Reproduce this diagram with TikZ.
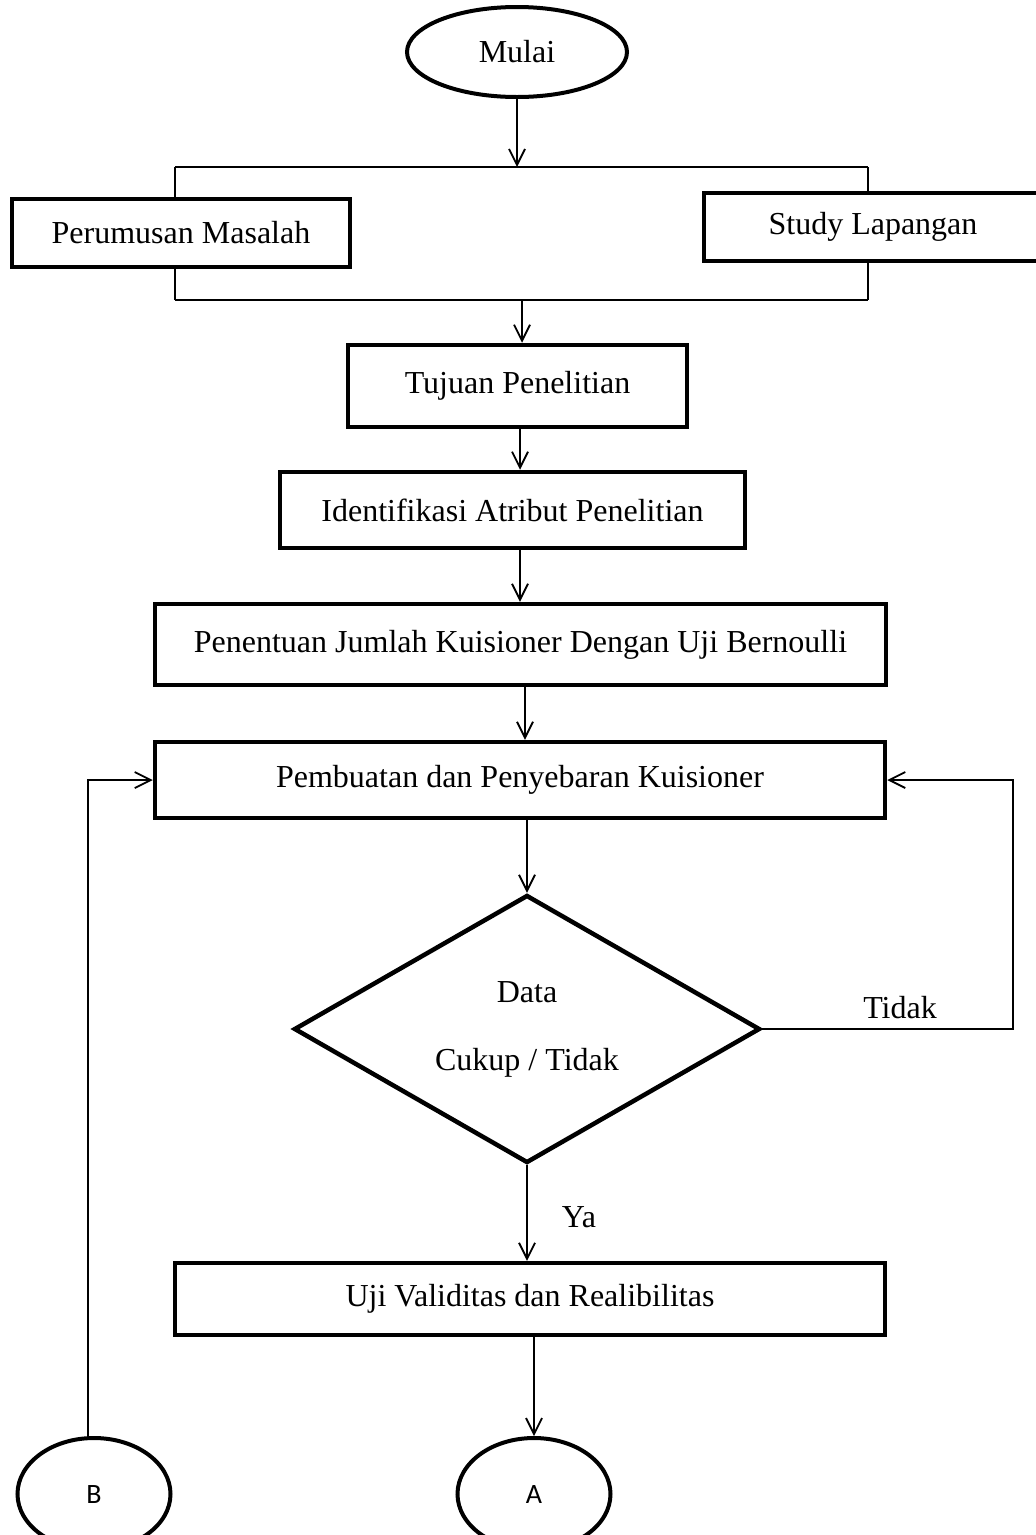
\documentclass[tikz,border=0pt]{standalone}
\usepackage{fontspec}
\setmainfont{Liberation Serif}
\newfontfamily\lblfont{Carlito}
\usetikzlibrary{shapes.geometric,arrows.meta,calc}
\begin{document}
\begin{tikzpicture}[x=1pt,y=-1pt,
  every node/.style={font=\fontsize{32}{38}\selectfont},
  procbox/.style={draw,line width=4.5pt,rectangle,inner sep=0pt},
  termell/.style={draw,line width=4pt,ellipse,inner sep=0pt},
  conn/.style={line width=1.8pt},
  arr/.style={conn,-{Straight Barb[length=16pt,width=16pt,line width=1.8pt]}},
  lbl/.style={inner sep=0pt}]
\useasboundingbox (0,0) rectangle (1036,1535);
\clip (0,0) rectangle (1036,1535);
% nodes
\node[termell,minimum width=220,minimum height=90] (mulai) at (517,52) {Mulai};
\node[procbox,minimum width=338,minimum height=68] (rumus) at (181,233) {Perumusan Masalah};
\node[procbox,minimum width=338,minimum height=68] (study) at (873,227) {Study Lapangan};
\node[procbox,minimum width=339,minimum height=82] (tujuan) at (517.5,386) {Tujuan Penelitian};
\node[procbox,minimum width=465,minimum height=76] (ident) at (512.5,510) {Identifikasi Atribut Penelitian};
\node[procbox,minimum width=731,minimum height=81] (tentu) at (520.5,644.5) {Penentuan Jumlah Kuisioner Dengan Uji Bernoulli};
\node[procbox,minimum width=730,minimum height=76] (buat) at (520,780) {Pembuatan dan Penyebaran Kuisioner};
\node[draw,line width=4.5pt,diamond,aspect=1.74,minimum width=466,minimum height=268,inner sep=0pt,align=center] (cek) at (527,1029) {Data\\[30pt]Cukup / Tidak};
\node[procbox,minimum width=710,minimum height=72] (uji) at (530,1299) {Uji Validitas dan Realibilitas};
\node[termell,minimum width=153,minimum height=112,font=\lblfont\fontsize{28}{33}\selectfont] (A) at (534,1494) {A};
\node[termell,minimum width=153,minimum height=112,font=\lblfont\fontsize{28}{33}\selectfont] (B) at (94,1494) {B};
\node[lbl] (tidak) at (900,1008) {Tidak};
\node[lbl] (ya) at (579,1217) {Ya};
% bracket
\coordinate (tl) at (175,167);
\coordinate (tr) at (868,167);
\coordinate (bl) at (175,300);
\coordinate (br) at (868,300);
\draw[conn] (tl) -- (tr);
\draw[conn] (bl) -- (br);
\draw[conn] (tl) -- (tl |- rumus.north);
\draw[conn] (bl) -- (bl |- rumus.south);
\draw[conn] (tr) -- (tr |- study.north);
\draw[conn] (br) -- (br |- study.south);
\coordinate (mtop) at (mulai.south |- tl);
\draw[arr] (mulai.south) -- (mtop);
\coordinate (bmid) at (522,300);
\draw[arr] (bmid) -- (bmid |- tujuan.north);
% main flow
\draw[arr] (520,427) coordinate (t1) -- (t1 |- ident.north);
\draw[arr] (520,548) coordinate (t2) -- (t2 |- tentu.north);
\draw[arr] (525,685) coordinate (t3) -- (t3 |- buat.north);
\draw[arr] (cek.north |- buat.south) -- (cek.north);
\draw[arr] (cek.south) -- (cek.south |- uji.north);
\draw[arr] (A.north |- uji.south) -- (A.north);
% loops
\coordinate (rt) at (1013,1029);
\draw[arr] (cek.east) -- (rt) |- (buat.east);
\coordinate (lt) at (88,1438);
\draw[arr] (lt) |- (buat.west);
\end{tikzpicture}
\end{document}
